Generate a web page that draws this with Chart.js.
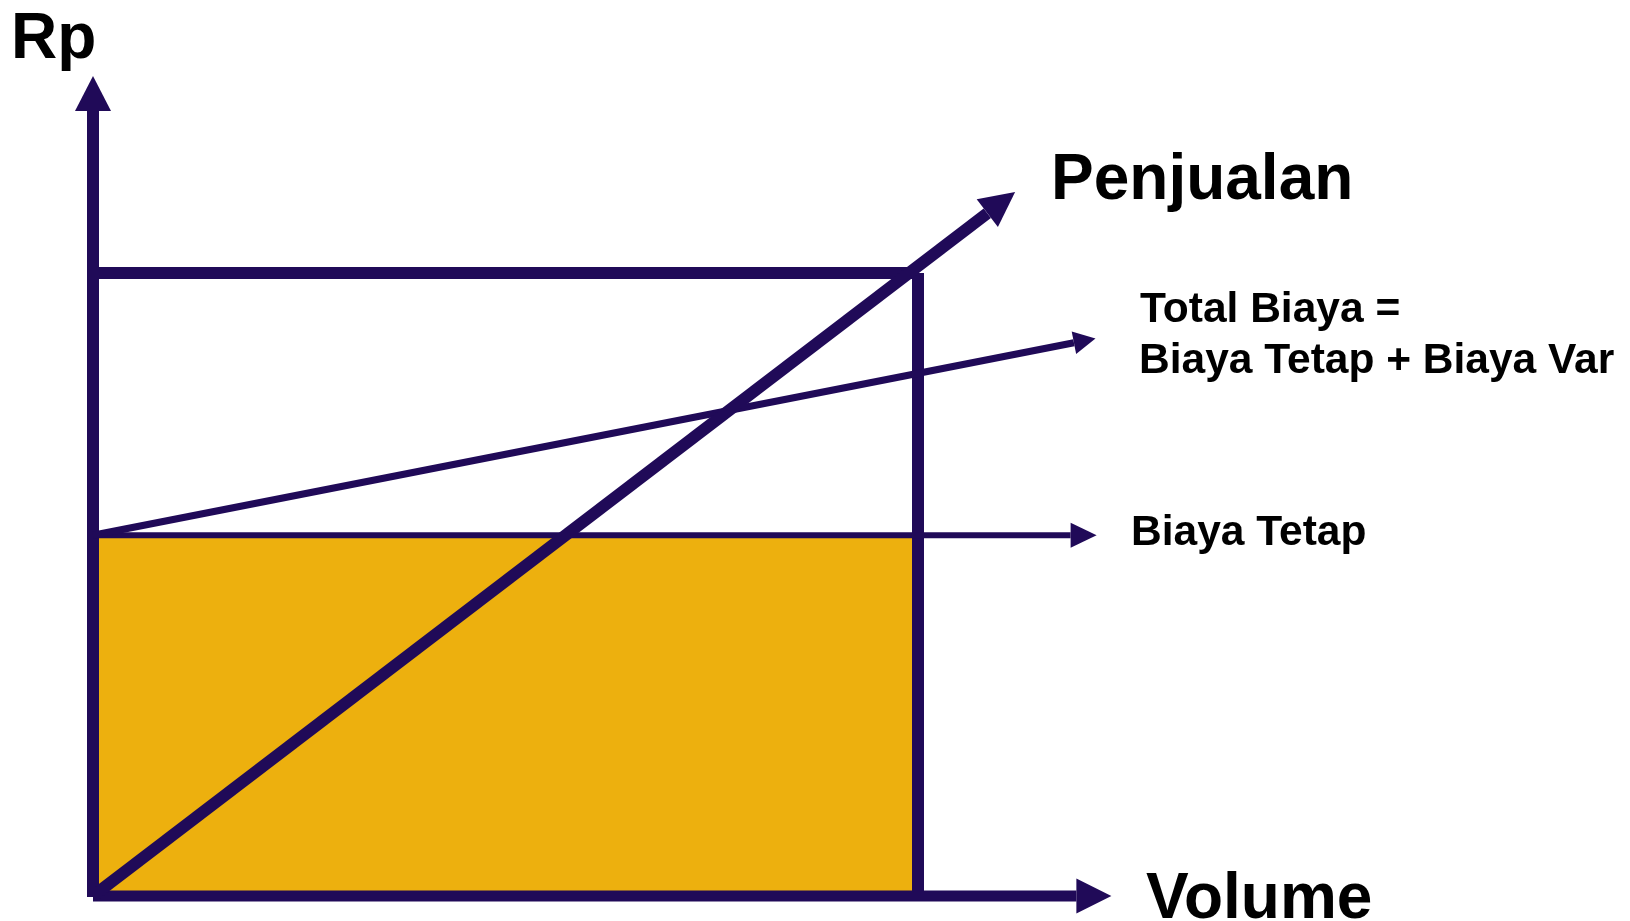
<!DOCTYPE html>
<html>
<head>
<meta charset="utf-8">
<title>Break Even</title>
<script src="https://cdn.jsdelivr.net/npm/chart.js@4/dist/chart.umd.min.js"></script>
<style>
  html, body { margin: 0; padding: 0; background: #fff; }
  #chart { display: block; }
</style>
</head>
<body>
<canvas id="chart" width="1630" height="921"></canvas>
<script>
// values (volume units vs Rp units)
const volumeSales = [0, 108.4];
const penjualan = [0, 109.6];

const volumeTotal = [0, 118.9];
const totalBiaya = [57.9, 88.8];

const volumeTetap = [0, 118.5];
const biayaTetap = [57.9, 57.9];

const volumeQ = [100, 100];
const rpQ = [0, 100];

const volumeTop = [0, 100];
const rpTop = [100, 100];

const fillVolume = [0, 100];
const fillRp = [57.9, 57.9];

const xAxisVol = [0, 119.2];
const xAxisRp = [0, 0];
const yAxisVol = [0, 0];
const yAxisRp = [-0.15, 126];

const ink = "rgb(32,10,88)";
const gold = "rgb(237,176,14)";

function pts(xs, ys) {
    return xs.map((x, i) => ({ x: x, y: ys[i] }));
}

function lineSet(xs, ys, width, arrow) {
    return {
        data: pts(xs, ys),
        showLine: true,
        borderColor: ink,
        borderWidth: width,
        borderCapStyle: "butt",
        pointRadius: 0,
        fill: false,
        arrow: arrow
    };
}

// arrow heads at the last point of a dataset, pointing along its last segment
const arrowPlugin = {
    id: "arrows",
    afterDatasetsDraw(chart) {
        const ctx = chart.ctx;
        chart.data.datasets.forEach((ds, i) => {
            if (!ds.arrow) return;
            const els = chart.getDatasetMeta(i).data;
            const a = els[els.length - 2], b = els[els.length - 1];
            let dx = b.x - a.x, dy = b.y - a.y;
            const d = Math.hypot(dx, dy);
            dx /= d; dy /= d;
            const len = ds.arrow.len, hw = ds.arrow.hw;
            ctx.save();
            ctx.fillStyle = ink;
            ctx.beginPath();
            ctx.moveTo(b.x + dx * len, b.y + dy * len);
            ctx.lineTo(b.x - dy * hw, b.y + dx * hw);
            ctx.lineTo(b.x + dy * hw, b.y - dx * hw);
            ctx.closePath();
            ctx.fill();
            ctx.restore();
        });
    }
};

const labels = [
    { text: "Rp", x: 11, y: 58, size: 64 },
    { text: "Penjualan", x: 1051, y: 199, size: 64 },
    { text: "Total Biaya =", x: 1140, y: 322, size: 42.5 },
    { text: "Biaya Tetap + Biaya Var", x: 1139, y: 373, size: 42.5 },
    { text: "Biaya Tetap", x: 1131, y: 545, size: 42.5 },
    { text: "Volume", x: 1146, y: 918, size: 64 }
];

const labelPlugin = {
    id: "labels",
    afterDraw(chart) {
        const ctx = chart.ctx;
        ctx.save();
        ctx.fillStyle = "#000";
        ctx.textBaseline = "alphabetic";
        ctx.textAlign = "left";
        labels.forEach(l => {
            ctx.font = "bold " + l.size + "px 'Liberation Sans', Arial, sans-serif";
            ctx.fillText(l.text, l.x, l.y);
        });
        ctx.restore();
    }
};

new Chart(document.getElementById("chart"), {
    type: "scatter",
    data: {
        datasets: [
            lineSet(volumeSales, penjualan, 12, { len: 35, hw: 17.5 }),
            lineSet(volumeTotal, totalBiaya, 7, { len: 22, hw: 11.5 }),
            lineSet(volumeTetap, biayaTetap, 6, { len: 26, hw: 12.5 }),
            lineSet(volumeQ, rpQ, 12),
            lineSet(volumeTop, rpTop, 12),
            lineSet(xAxisVol, xAxisRp, 11, { len: 35, hw: 17.5 }),
            lineSet(yAxisVol, yAxisRp, 12, { len: 35, hw: 18 }),
            {
                data: pts(fillVolume, fillRp),
                showLine: true,
                borderWidth: 0,
                borderColor: gold,
                backgroundColor: gold,
                pointRadius: 0,
                fill: "origin"
            }
        ]
    },
    options: {
        responsive: false,
        animation: false,
        layout: { padding: 0 },
        plugins: {
            legend: { display: false },
            tooltip: { enabled: false }
        },
        scales: {
            x: { type: "linear", display: false, min: -93 / 8.25, max: (1630 - 93) / 8.25 },
            y: { type: "linear", display: false, min: -25 / 6.23, max: 896 / 6.23 }
        }
    },
    plugins: [arrowPlugin, labelPlugin]
});
</script>
</body>
</html>
